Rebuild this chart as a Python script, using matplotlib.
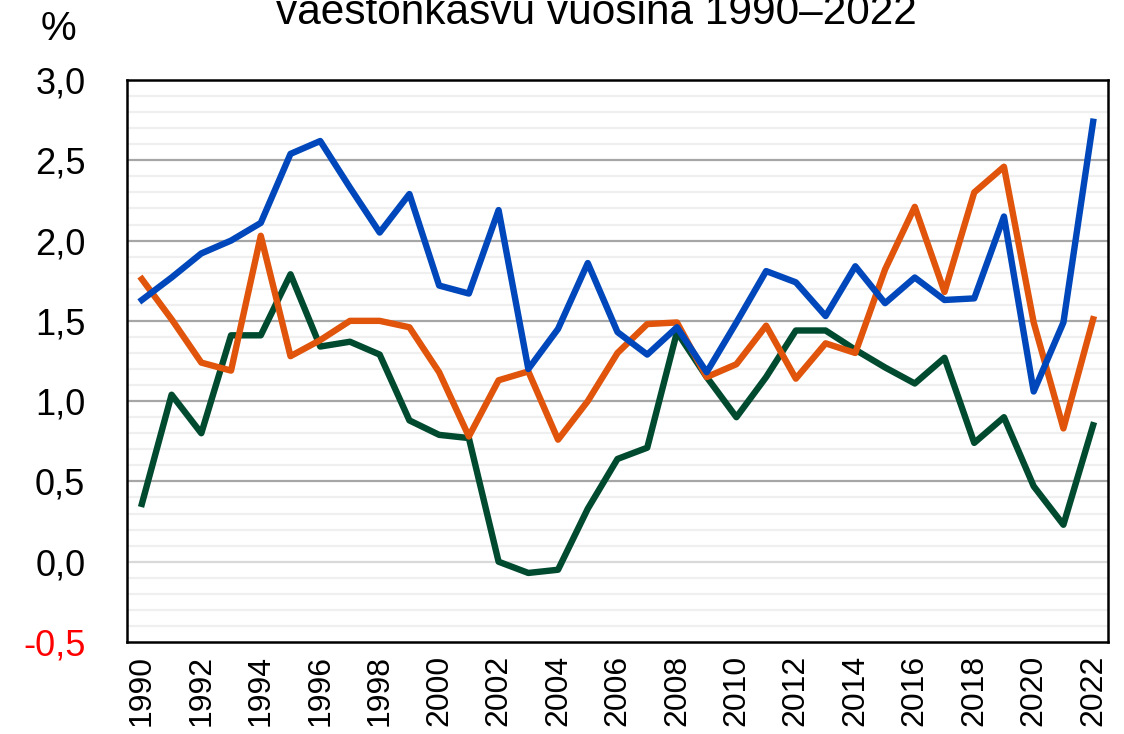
import matplotlib
matplotlib.use("Agg")
import matplotlib.pyplot as plt
import numpy as np

plt.rcParams['font.family'] = ['Liberation Sans', 'DejaVu Sans']

years = list(range(1990, 2023))
blue = [1.63, 1.77, 1.92, 2.00, 2.11, 2.54, 2.62, 2.33, 2.05, 2.29, 1.72, 1.67, 2.19,
        1.20, 1.45, 1.86, 1.43, 1.29, 1.46, 1.18, 1.49, 1.81, 1.74, 1.53, 1.84, 1.61,
        1.77, 1.63, 1.64, 2.15, 1.06, 1.49, 2.74]
orange = [1.76, 1.51, 1.24, 1.19, 2.03, 1.28, 1.38, 1.50, 1.50, 1.46, 1.18, 0.78, 1.13,
          1.185, 0.76, 1.00, 1.30, 1.48, 1.49, 1.15, 1.23, 1.47, 1.14, 1.36, 1.30, 1.82,
          2.21, 1.68, 2.30, 2.46, 1.49, 0.83, 1.51]
green = [0.36, 1.04, 0.80, 1.41, 1.41, 1.79, 1.34, 1.37, 1.29, 0.88, 0.79, 0.77, 0.00,
         -0.07, -0.05, 0.33, 0.64, 0.71, 1.43, 1.15, 0.90, 1.15, 1.44, 1.44, 1.32, 1.21,
         1.11, 1.27, 0.74, 0.90, 0.47, 0.23, 0.85]

ytick_vals = [-0.5, 0.0, 0.5, 1.0, 1.5, 2.0, 2.5, 3.0]
ytick_labels = ["-0,5", "0,0", "0,5", "1,0", "1,5", "2,0", "2,5", "3,0"]
xtick_vals = list(range(1990, 2023, 2))
title_text = "väestönkasvu vuosina 1990–2022"

fig = plt.figure(figsize=(11.24, 7.34), dpi=100)
ax = fig.add_axes([127/1124, 1 - 642/734, (1108-127)/1124, (642-80)/734])

# minor grid
for v in np.arange(-0.4, 3.0, 0.1):
    if abs(round(v * 10) % 5) != 0:
        ax.axhline(v, color='#EFEFEF', lw=1.6, zorder=1)
for v in ytick_vals[1:-1]:
    c = '#D9D9D9' if v == 0 else '#A6A6A6'
    ax.axhline(v, color=c, lw=1.6, zorder=2)

ax.plot(years, green, color='#004B30', lw=4.6, zorder=3)
ax.plot(years, orange, color='#E0540B', lw=4.6, zorder=4)
ax.plot(years, blue, color='#0047BB', lw=4.6, zorder=5)

ax.set_xlim(1989.5, 2022.5)
ax.set_ylim(-0.5, 3.0)
ax.set_yticks(ytick_vals)
ax.set_yticklabels(ytick_labels, fontsize=26)
ax.get_yticklabels()[0].set_color('red')
ax.set_xticks(xtick_vals)
ax.set_xticklabels([str(y) for y in xtick_vals], rotation=90, fontsize=23)
ax.tick_params(axis='y', length=0, pad=30)
ax.tick_params(axis='x', length=0, pad=9)
for s in ax.spines.values():
    s.set_linewidth(1.8)
    s.set_color('black')

fig.text(58/1124, 1 - 40/734, "%", fontsize=29, ha='center', va='baseline')
fig.text(596/1124, 1 - 24/734, title_text, fontsize=30.5, ha='center', va='baseline')

fig.savefig("out.png", dpi=100)
